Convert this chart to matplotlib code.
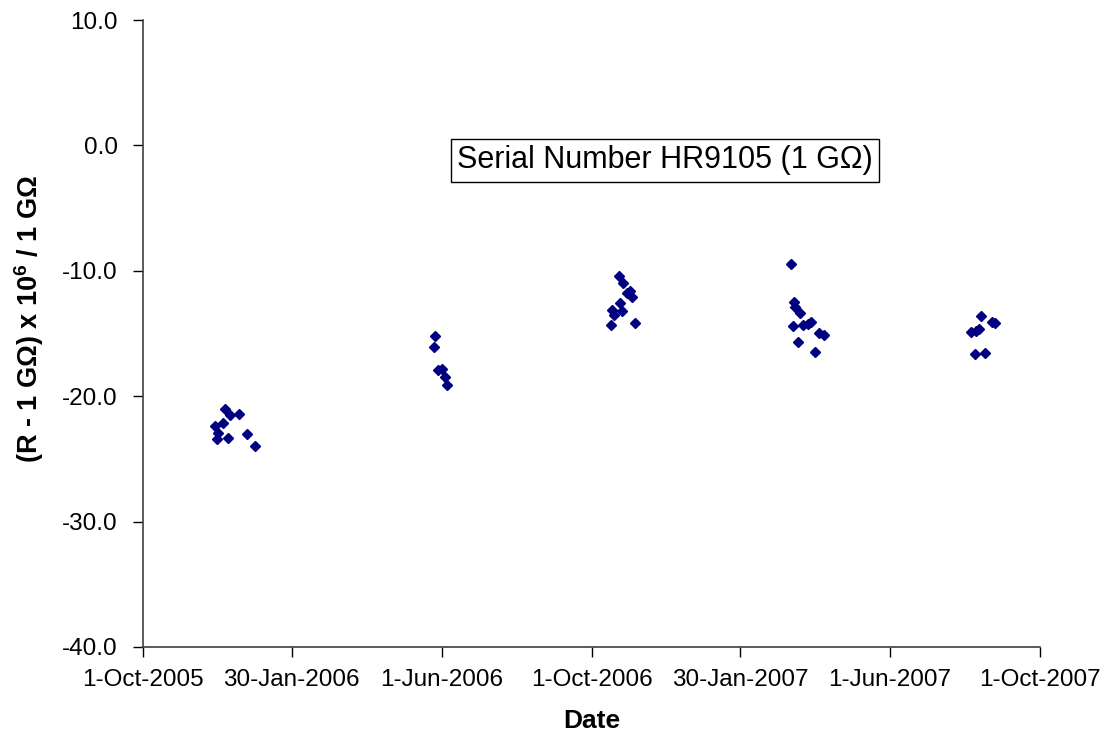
# Recreation of the HR9105 resistance drift scatter chart
import datetime as dt
import matplotlib
matplotlib.use("Agg")
import matplotlib.pyplot as plt

plt.rcParams['font.family'] = ['Liberation Sans', 'DejaVu Sans']
plt.rcParams['mathtext.fontset'] = 'custom'
plt.rcParams['mathtext.rm'] = 'Liberation Sans:bold'
plt.rcParams['mathtext.default'] = 'rm'

# measurement dates and values, (R - 1 GOhm) x 1e6 / 1 GOhm
dates = [
    "2005-11-29", "2005-11-30", "2005-12-01", "2005-12-05", "2005-12-07",
    "2005-12-09", "2005-12-11", "2005-12-18", "2005-12-25", "2005-12-31",
    "2006-05-27", "2006-05-26", "2006-05-29", "2006-06-01", "2006-06-04",
    "2006-06-05",
    "2006-10-17", "2006-10-18", "2006-10-19", "2006-10-23", "2006-10-24",
    "2006-10-26", "2006-10-27", "2006-10-30", "2006-11-01", "2006-11-03",
    "2006-11-05",
    "2007-03-12", "2007-03-14", "2007-03-15", "2007-03-16", "2007-03-18",
    "2007-03-20", "2007-03-22", "2007-03-26", "2007-03-29", "2007-04-01",
    "2007-04-04", "2007-04-08",
    "2007-08-06", "2007-08-09", "2007-08-10", "2007-08-12", "2007-08-14",
    "2007-08-17", "2007-08-23", "2007-08-25",
]
values = [
    -22.4, -23.4, -22.9, -22.1, -21.0, -23.3, -21.5, -21.4, -23.0, -24.0,
    -15.2, -16.05, -17.9, -17.8, -18.5, -19.1,
    -14.3, -13.1, -13.55, -10.4, -12.55, -13.2, -10.95, -11.75, -11.6, -12.1,
    -14.2,
    -9.46, -14.4, -12.46, -12.86, -15.65, -13.34, -14.32, -14.24, -14.06,
    -16.48, -14.94, -15.12,
    -14.86, -16.63, -14.78, -14.67, -13.6, -16.58, -14.06, -14.14,
]

tick_dates = ["2005-10-01", "2006-01-30", "2006-06-01", "2006-10-01",
              "2007-01-30", "2007-06-01", "2007-10-01"]
tick_labels = ["1-Oct-2005", "30-Jan-2006", "1-Jun-2006", "1-Oct-2006",
               "30-Jan-2007", "1-Jun-2007", "1-Oct-2007"]
y_ticks = [-40, -30, -20, -10, 0, 10]

x = [dt.datetime.strptime(d, "%Y-%m-%d") for d in dates]
xt = [dt.datetime.strptime(d, "%Y-%m-%d") for d in tick_dates]

fig = plt.figure(figsize=(11.05, 7.39), dpi=100)
ax = fig.add_axes([0.1294, 0.1245, 0.8118, 0.8484])

ax.plot(x, values, linestyle='none', marker='D', markersize=5.5,
        color='#000080', markeredgecolor='#000080')

ax.set_xlim(xt[0], xt[-1])
ax.set_ylim(-40, 10)
ax.set_xticks(xt)
ax.set_xticklabels(tick_labels)
ax.set_yticks(y_ticks)
ax.set_yticklabels(["%.1f" % v for v in y_ticks])
ax.tick_params(axis='both', direction='out', length=7, width=1,
               labelsize=17.5, colors='black')
ax.tick_params(axis='x', pad=9)
ax.tick_params(axis='y', pad=11)

ax.spines['top'].set_visible(False)
ax.spines['right'].set_visible(False)
for s in ('left', 'bottom'):
    ax.spines[s].set_color('#404040')
    ax.spines[s].set_linewidth(1.2)

ax.set_xlabel('Date', fontsize=19, fontweight='bold', labelpad=13)
ax.set_ylabel('(R - 1 G\u03a9) x 10$^{6}$ / 1 G\u03a9', fontsize=19.5,
              fontweight='bold')
ax.yaxis.set_label_coords(-0.108, 0.523)

ax.text(0.582, 0.776, 'Serial Number HR9105 (1 G\u03a9)', transform=ax.transAxes,
        fontsize=22, ha='center', va='center',
        bbox=dict(boxstyle='square,pad=0.2', facecolor='white',
                  edgecolor='black', linewidth=1))

fig.savefig('out.png', dpi=100)
